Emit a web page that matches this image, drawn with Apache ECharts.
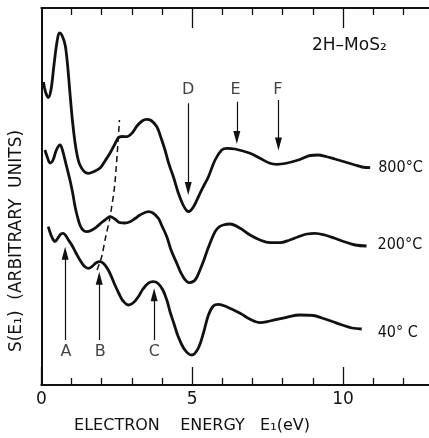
<!DOCTYPE html>
<html>
<head>
<meta charset="utf-8">
<script src="https://cdn.jsdelivr.net/npm/echarts@6/dist/echarts.min.js"></script>
<style>
  html, body { margin: 0; padding: 0; background: #fff; }
  #chart { width: 429px; height: 438px; }
</style>
</head>
<body>
<div id="chart"></div>
<script>
// curve values (x in eV, y in arbitrary units)
var e800 = [0.07,0.14,0.23,0.32,0.42,0.52,0.60,0.68,0.79,0.87,0.95,1.03,1.12,1.20,1.28,1.42,1.56,1.71,1.95,2.11,2.28,2.44,2.55,2.67,2.83,3.01,3.17,3.34,3.49,3.64,3.83,3.97,4.10,4.23,4.38,4.53,4.70,4.83,4.90,5.04,5.15,5.26,5.39,5.54,5.76,5.98,6.15,6.42,6.92,7.25,7.58,7.80,8.08,8.52,8.91,9.17,9.44,9.73,10.07,10.40,10.63,10.90];
var s800 = [303,293,287.5,295,320,343,352,350,340,320,292,265,242,228,220,213.5,211.7,213,217,224,232,241,247,248.5,248.3,252,259,264,265.7,264.5,258.3,247,235,221,208,193,180,174,173.5,178,184.5,191.7,199.5,208.3,225,235,236.7,236,231.7,226.7,221.7,220.7,221.5,225,229.5,230,228.5,226,223,220,218,217.3];

var e200 = [0.12,0.21,0.29,0.39,0.50,0.62,0.70,0.84,0.95,1.04,1.12,1.20,1.28,1.38,1.50,1.65,1.84,1.98,2.11,2.28,2.44,2.61,2.77,2.94,3.11,3.27,3.55,3.70,3.88,4.00,4.16,4.30,4.49,4.63,4.76,4.90,5.06,5.16,5.26,5.39,5.53,5.76,5.89,6.03,6.25,6.59,6.92,7.25,7.58,7.91,8.24,8.52,8.81,9.07,9.40,9.73,10.07,10.40,10.78];
var s200 = [235,227,222,225,235,240,235,218.3,205,192,178.3,168,160,155,153.3,154.5,158.3,162,165,168.3,166,162.3,162,163.3,166.5,170,173.3,172,166.7,159,148.3,135,121.7,112,105.5,102.3,104,108,115,125,137,153.3,158,160,161,156.7,150,145,142.3,142.3,145,148.3,151,151.7,150,146.7,143,140,139];

var e40 = [0.23,0.32,0.40,0.45,0.55,0.65,0.73,0.82,0.90,1.01,1.15,1.28,1.42,1.56,1.68,1.81,1.95,2.08,2.22,2.33,2.44,2.58,2.71,2.88,3.04,3.21,3.37,3.54,3.71,3.87,4.03,4.17,4.27,4.40,4.54,4.76,4.99,5.20,5.37,5.54,5.70,5.87,6.14,6.59,6.92,7.25,7.58,8.13,8.57,9.01,9.30,9.64,9.97,10.30,10.62];
var s40 = [158.3,150,145,143.3,147,151,151.7,149,145,140,132,125,119,116.7,118.5,122,123.3,121,115,108,100,91,84,80,82,88,96,101.7,103.3,101.5,95,84,73,61,48.3,35,30,36.7,51.7,70,79,80.7,78.3,71.7,65.7,62.3,64,67.7,70,69.5,67,63.5,60,57,56];

// dashed guide line through the B feature
var eDash = [1.85,2.00,2.14,2.28,2.44,2.59];
var sDash = [115,128.3,149,168.3,202,265];

// arrows: x position, tail and tip heights
var arrowNames = ['A','B','C','D','E','F'];
var arrowX    = [0.79,1.92,3.74,4.87,6.48,7.86];
var arrowTail = [45,45,45,281.7,283.3,285];
var arrowTip  = [138.3,113.3,96.7,190,241,234.5];
var letterX   = [0.82,1.95,3.75,4.87,6.44,7.84];
var letterY   = [33.3,33.3,33.3,295,295,295.5];

// axis ticks
var majorTicks = [0, 5, 10];
var minorTicks = [1, 2, 3, 4, 6, 7, 8, 9, 11, 12];
var xMax = 12.85;

function zip(a, b) {
  var out = [];
  for (var i = 0; i < a.length; i++) out.push([a[i], b[i]]);
  return out;
}

var font = 'DejaVu Sans';
var ink = '#111';
var headW = 7, headL = 13;

var arrowLines = [];
for (var i = 0; i < arrowX.length; i++) {
  var dir = arrowTip[i] > arrowTail[i] ? 1 : -1;
  arrowLines.push([
    {coord: [arrowX[i], arrowTail[i]]},
    {coord: [arrowX[i], arrowTip[i] - dir * headL / 2]}
  ]);
}
var letters = [];
for (var j = 0; j < arrowNames.length; j++) {
  letters.push([letterX[j], letterY[j], arrowNames[j]]);
}

function curve(name, xs, ys, dist, dy) {
  return {
    name: name,
    type: 'line',
    data: zip(xs, ys),
    smooth: 0.35,
    showSymbol: false,
    symbol: 'none',
    lineStyle: {color: ink, width: 2.8},
    endLabel: {
      show: true,
      formatter: name,
      distance: dist,
      offset: [0, dy],
      color: ink,
      fontFamily: '"Liberation Sans Narrow", "DejaVu Sans Condensed", "DejaVu Sans"',
      fontSize: 16
    },
    silent: true
  };
}

function xAxisOf(pos, ticks, len, showLine, showLabels) {
  return {
    type: 'value',
    position: pos,
    min: 0,
    max: xMax,
    interval: 1,
    splitLine: {show: false},
    axisLine: {show: showLine, onZero: false, lineStyle: {color: ink, width: 2}},
    axisTick: {show: true, inside: true, length: len, customValues: ticks,
               lineStyle: {color: ink, width: 1.3}},
    axisLabel: {
      show: showLabels,
      customValues: majorTicks,
      margin: 6,
      color: ink,
      fontFamily: font,
      fontSize: 17,
      formatter: function (v) { return majorTicks.indexOf(v) >= 0 ? String(v) : ''; }
    }
  };
}

var myChart = echarts.init(document.getElementById('chart'));

var option = {
  animation: false,
  backgroundColor: '#fff',
  grid: {left: 41.3, right: 0, top: 8, bottom: 53},
  xAxis: [
    xAxisOf('bottom', majorTicks, 18, true, true),
    xAxisOf('bottom', minorTicks, 7, false, false),
    xAxisOf('top', majorTicks.slice(1), 20, true, false),
    xAxisOf('top', minorTicks, 7, false, false)
  ],
  yAxis: {
    type: 'value',
    min: 0,
    max: 377,
    axisLine: {show: true, lineStyle: {color: ink, width: 2}},
    axisTick: {show: false},
    axisLabel: {show: false},
    splitLine: {show: false}
  },
  graphic: [
    {
      type: 'text',
      x: 17, y: 241,
      rotation: Math.PI / 2,
      style: {
        text: 'S(E\u2081)  (ARBITRARY  UNITS)',
        fill: ink,
        font: '17px "DejaVu Sans"',
        textAlign: 'center',
        textVerticalAlign: 'middle'
      }
    },
    {
      type: 'text',
      x: 192, y: 426,
      style: {
        text: 'ELECTRON    ENERGY   E\u2081(eV)',
        fill: ink,
        font: '16px "DejaVu Sans"',
        textAlign: 'center',
        textVerticalAlign: 'middle'
      }
    },
    {
      type: 'text',
      x: 312, y: 46,
      style: {
        text: '2H\u2013MoS\u2082',
        fill: ink,
        font: '17px "DejaVu Sans"',
        textAlign: 'left',
        textVerticalAlign: 'middle'
      }
    }
  ],
  series: [
    curve('800\u00b0C', e800, s800, 8, 0),
    curve('200\u00b0C', e200, s200, 11, -1),
    curve('40\u00b0 C', e40, s40, 16, 4),
    {
      name: 'guide',
      type: 'line',
      data: zip(eDash, sDash),
      smooth: 0.3,
      showSymbol: false,
      symbol: 'none',
      lineStyle: {color: ink, width: 1.5, type: [6, 4]},
      silent: true
    },
    {
      name: 'marks',
      type: 'scatter',
      data: letters,
      symbolSize: 1,
      itemStyle: {color: 'rgba(0,0,0,0)'},
      label: {
        show: true,
        position: 'inside',
        formatter: function (p) { return p.value[2]; },
        color: ink,
        fontFamily: font,
        fontSize: 16
      },
      silent: true,
      markLine: {
        silent: true,
        symbol: ['none', 'triangle'],
        symbolSize: [headW, headL],
        label: {show: false},
        itemStyle: {color: ink},
        lineStyle: {color: ink, width: 1.2, type: 'solid', opacity: 1},
        emphasis: {disabled: true},
        data: arrowLines
      }
    }
  ]
};

myChart.setOption(option);
</script>
</body>
</html>
